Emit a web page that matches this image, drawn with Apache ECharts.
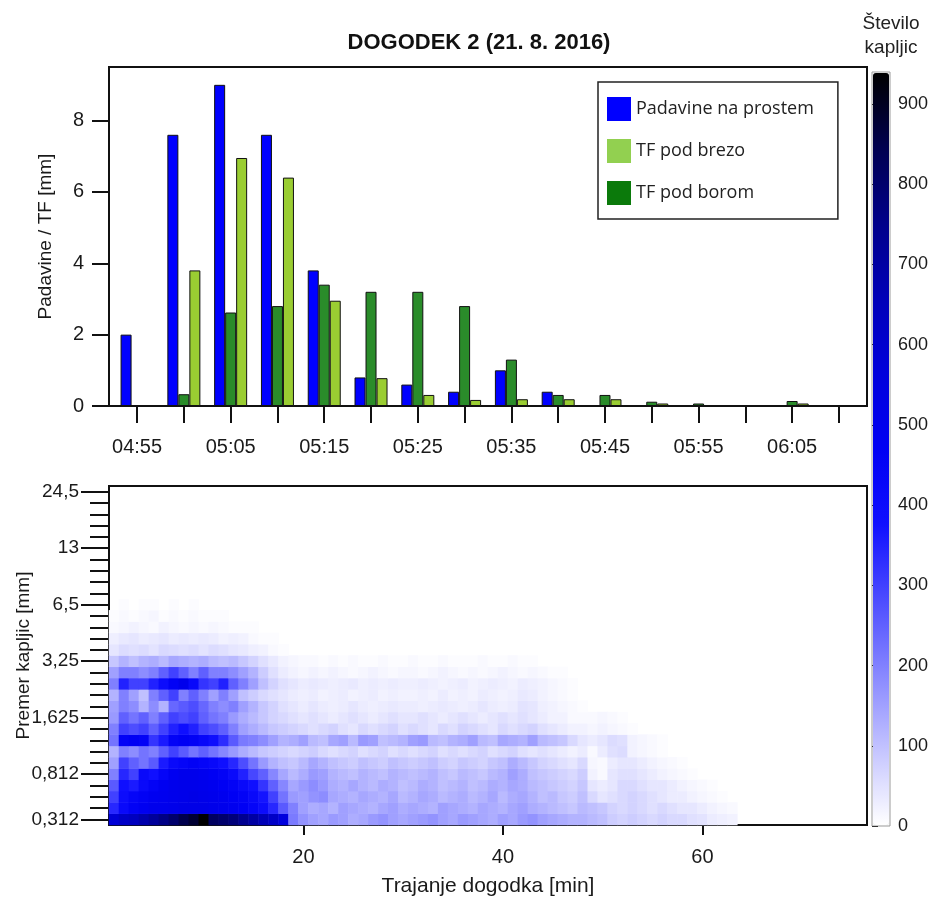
<!DOCTYPE html>
<html>
<head>
<meta charset="utf-8">
<script src="https://cdn.jsdelivr.net/npm/echarts@6/dist/echarts.min.js"></script>
<style>
  html, body { margin: 0; padding: 0; background: #fff; }
  #chart { width: 935px; height: 898px; }
</style>
</head>
<body>
<div id="chart"></div>
<script>
// top panel: 5-minute totals
const times = ['04:55','05:00','05:05','05:10','05:15','05:20','05:25','05:30','05:35','05:40','05:45','05:50','05:55','06:00','06:05','06:10'];
const padavine = [2.0, 7.6, 9.0, 7.6, 3.8, 0.8, 0.6, 0.4, 1.0, 0.4, 0, 0, 0, 0, 0, 0];
const tfBor    = [0, 0.33, 2.62, 2.8, 3.4, 3.2, 3.2, 2.8, 1.3, 0.31, 0.31, 0.12, 0.07, 0, 0.14, 0];
const tfBreza  = [0, 3.8, 6.95, 6.4, 2.95, 0.78, 0.31, 0.17, 0.19, 0.19, 0.19, 0.07, 0, 0, 0.07, 0];
const rainTicks = [0, 2, 4, 6, 8];

// bottom panel: drop counts per minute (columns) for each diameter class (rows)
const sizeClasses = ['0,312','0,437','0,562','0,687','0,812','0,937','1,062','1,187','1,375','1,625','1,875','2,125','2,375','2,75','3,25','3,75','4,25','4,75','5,5','6,5','7,5','8,5','9,5','11','13','15','17','19','21,5','24,5'];
const sizeLabels = ['0,312','0,812','1,625','3,25','6,5','13','24,5'];
const minuteCount = 76;
const minuteTicks = [20, 40, 60];
const colorTicks = [0, 100, 200, 300, 400, 500, 600, 700, 800, 900];

const d0312 = [580,620,640,680,720,760,800,850,880,940,820,800,780,740,700,660,620,560, 210,170,150,140,160,150,130,140,160,170,150,140, 150,160,170,150,140,160,150,140,130,150,140,160,170,150,140,130,120, 120,110,100,80,70,80,70,60,70,60,60,50,45,30,25,20];
const d0437 = [340,420,460,480,500,500,510,520,520,520,510,500,490,470,440,400,340,260, 200,150,130,140,120,150,140,130,120,140,150,130, 140,130,120,150,140,130,120,140,130,120,140,150,130,120,110,100,90, 110,100,90,70,60,70,60,50,60,50,40,40,30,20,15,10];
const d0562 = [300,400,440,460,480,490,500,510,520,510,500,490,470,450,420,370,300,220, 160,150,170,180,140,130,120,140,130,120,140,110, 120,140,130,110,120,130,110,120,140,110,130,140,120,100,110,90,80, 100,60,40,50,60,70,60,50,40,30,30,20,15,10,5];
const d0687 = [260,380,360,420,450,480,500,510,510,500,490,470,450,420,380,320,250,190, 140,160,180,160,130,120,140,120,110,130,120,100, 110,130,120,100,110,120,100,110,130,120,140,130,110,100,90,80,70, 90,40,30,40,60,60,50,40,40,30,20,15,10,5];
const d0812 = [200,340,300,420,380,440,480,500,500,490,470,450,410,350,290,250,190,140, 110,130,160,150,120,110,100,120,110,100,120,110, 100,110,120,100,90,110,100,90,110,120,150,130,100,90,80,70,60, 80,20,10,40,50,50,40,30,20,15,10,5];
const d0937 = [150,300,250,220,260,360,420,440,460,440,420,380,340,280,220,160,120,100, 90,110,140,120,100,90,80,100,90,80,100,90, 80,90,100,80,70,90,80,70,90,100,130,110,90,70,60,50,40, 60,15,10,30,40,40,30,20,15,10,5];
const d1062 = [120,200,180,220,200,250,300,260,220,250,220,190,160,130,110,90,80,70, 60,70,80,60,50,60,70,50,60,70,50,60, 50,60,70,50,60,50,60,70,50,60,70,50,40,50,40,30,20, 30,10,30,50,55,20,15,10,5];
const d1187 = [220,450,470,450,320,360,450,470,460,430,390,330,260,210,200,180,150,120, 130,150,110,100,140,150,110,160,150,100,110,120, 150,160,110,100,120,130,150,110,100,140,130,120,150,110,100,90,60, 40,30,40,55,50,20,15,10,5];
const d1375 = [200,300,280,300,250,300,350,380,350,300,280,250,200,150,130,110,90,80, 70,60,50,60,70,50,40,60,50,60,70,50, 60,50,40,60,50,70,60,50,40,60,50,60,70,50,40,30,20, 20,15,20,15,10,5];
const d1625 = [160,250,220,250,200,250,300,280,300,250,220,200,160,130,110,90,70,60, 50,40,50,40,30,40,50,40,30,40,50,40, 40,50,40,30,40,50,40,30,40,50,40,50,40,30,20,20,10, 10,10,15,10,5];
const d1875 = [150,200,180,120,180,120,240,260,280,240,200,180,200,150,120,90,70,50, 40,30,40,30,25,30,40,30,25,30,35,30, 30,25,30,35,30,25,30,40,30,25,30,45,40,25,20,15,10, 5];
const d2125 = [120,200,150,100,200,250,300,200,250,200,150,200,150,100,80,60,50,40, 30,25,30,20,25,30,20,25,30,20,25,20, 20,25,20,30,20,25,20,30,25,20,25,35,30,20,15,10,5];
const d2375 = [200,350,300,300,350,400,460,500,420,320,300,350,250,200,150,100,70,50, 40,30,35,30,25,30,35,25,30,25,30,25, 25,30,25,20,25,30,20,25,30,25,20,30,25,20,15,10,5];
const d2750 = [150,200,200,180,200,250,300,250,200,250,200,200,180,150,120,80,50,30, 20,15,20,15,20,15,10,15,20,15,10,15, 15,10,15,20,15,10,15,10,15,20,15,10,15,10,5,5];
const d3250 = [90,120,100,120,130,110,140,130,120,130,110,100,110,90,70,50,35,20, 15,10,10,5,10,5,10,5,5,10,5,5, 10,5,5,10,5,5,5,10,5,5,10,5,5];
const d3750 = [40,55,50,55,45,60,55,50,55,45,55,50,40,35,25,20,10,5];
const d4250 = [25,35,40,30,35,40,30,35,30,35,30,20,25,20,10,5,5];
const d4750 = [10,15,20,15,10,20,15,10,15,10,15,10,5,5,5];
const d5500 = [5,10,5,10,15,5,10,5,10,5,5,5];
const d6500 = [0,5,0,5,5,0,5,0,5];
const countRows = [d0312, d0437, d0562, d0687, d0812, d0937, d1062, d1187, d1375, d1625,
                   d1875, d2125, d2375, d2750, d3250, d3750, d4250, d4750, d5500, d6500];

const FONT = 'Liberation Sans';

const minutes = [];
for (let m = 1; m <= minuteCount; m++) minutes.push(String(m));

const heatData = [];
countRows.forEach((row, k) => {
  row.forEach((v, j) => { if (v > 0) heatData.push([j, k, v]); });
});

function barData(vals) {
  const out = [];
  vals.forEach((v, i) => { if (v > 0) out.push([i * 5, v]); });
  return out;
}

const barBorder = { borderColor: '#111', borderWidth: 1 };
const labelText = { fontFamily: FONT, fontSize: 19, color: '#1a1a1a' };
const blackLine = { show: true, onZero: false, lineStyle: { color: '#111', width: 2 } };

const chart = echarts.init(document.getElementById('chart'), null, { renderer: 'canvas' });

const option = {
  animation: false,
  backgroundColor: '#fff',
  title: [
    {
      text: 'DOGODEK 2 (21. 8. 2016)',
      left: 479, top: 32, textAlign: 'center', padding: 0,
      textStyle: { fontFamily: FONT, fontWeight: 'bold', fontSize: 22, color: '#111' }
    },
    {
      text: 'Število\nkapljic',
      left: 891, top: 12, textAlign: 'center', padding: 0,
      textStyle: { fontFamily: FONT, fontWeight: 'normal', fontSize: 19, lineHeight: 24, color: '#222' }
    }
  ],
  legend: {
    orient: 'vertical',
    left: 598, top: 82,
    padding: [15, 24, 14, 9],
    itemWidth: 24, itemHeight: 24, itemGap: 18,
    icon: 'rect',
    borderColor: '#222', borderWidth: 1.5,
    backgroundColor: '#fff',
    textStyle: { fontFamily: 'Open Sans', fontSize: 18, color: '#222' },
    data: [
      { name: 'Padavine na prostem', itemStyle: { color: '#0000ff', borderWidth: 0 } },
      { name: 'TF pod brezo', itemStyle: { color: '#92d050', borderWidth: 0 } },
      { name: 'TF pod borom', itemStyle: { color: '#0b7a0b', borderWidth: 0 } }
    ]
  },
  grid: [
    { left: 109, top: 67, width: 758, height: 339, show: true, borderColor: '#111', borderWidth: 2, outerBoundsMode: 'none' },
    { left: 109, top: 486, width: 758, height: 339, show: true, borderColor: '#111', borderWidth: 2, outerBoundsMode: 'none' },
    { left: 872, top: 72, width: 18, height: 754, show: true, borderColor: '#999', borderWidth: 1, outerBoundsMode: 'none' }
  ],
  xAxis: [
    {
      type: 'value', gridIndex: 0, min: -3, max: 78,
      axisLine: blackLine,
      axisTick: { show: true, length: 17, lineStyle: { color: '#111', width: 2 },
                  customValues: times.map((t, i) => i * 5) },
      axisLabel: { ...labelText, fontSize: 20, margin: 31,
                   customValues: times.map((t, i) => i * 5).filter((v, i) => i % 2 === 0),
                   formatter: v => times[Math.round(v / 5)] },
      splitLine: { show: false }
    },
    {
      type: 'category', gridIndex: 1, data: minutes, boundaryGap: true,
      name: 'Trajanje dogodka [min]', nameLocation: 'middle', nameGap: 51, nameMoveOverlap: false,
      nameTextStyle: { fontFamily: FONT, fontSize: 21, color: '#1a1a1a' },
      axisLine: blackLine,
      axisTick: { show: true, alignWithLabel: true, length: 10, lineStyle: { color: '#111', width: 2 },
                  interval: (i, v) => minuteTicks.includes(Number(v)) },
      axisLabel: { ...labelText, fontSize: 20, margin: 22,
                   interval: (i, v) => minuteTicks.includes(Number(v)) },
      splitLine: { show: false }
    },
    { type: 'value', gridIndex: 2, show: false, min: 0, max: 1 }
  ],
  yAxis: [
    {
      type: 'value', gridIndex: 0, min: 0, max: 9.5,
      name: 'Padavine / TF [mm]', nameLocation: 'middle', nameGap: 54, nameMoveOverlap: false,
      nameTextStyle: { fontFamily: FONT, fontSize: 19, color: '#1a1a1a' },
      axisLine: blackLine,
      axisTick: { show: true, length: 17, lineStyle: { color: '#111', width: 2 }, customValues: rainTicks },
      axisLabel: { ...labelText, fontSize: 20, margin: 25, customValues: rainTicks },
      splitLine: { show: false }
    },
    {
      type: 'category', gridIndex: 1, data: sizeClasses, boundaryGap: true, position: 'left',
      name: 'Premer kapljic [mm]', nameLocation: 'middle', nameGap: 76, nameMoveOverlap: false,
      nameTextStyle: { fontFamily: FONT, fontSize: 19, color: '#1a1a1a' },
      axisLine: blackLine,
      axisTick: { show: true, alignWithLabel: true, length: 28, lineStyle: { color: '#111', width: 2 },
                  interval: (i, v) => sizeLabels.includes(v) },
      axisLabel: { ...labelText, margin: 30, interval: (i, v) => sizeLabels.includes(v) },
      splitLine: { show: false }
    },
    {
      type: 'category', gridIndex: 1, data: sizeClasses, boundaryGap: true, position: 'left',
      axisLine: blackLine,
      axisTick: { show: true, alignWithLabel: true, length: 19, interval: 0, lineStyle: { color: '#111', width: 2 } },
      axisLabel: { show: false },
      splitLine: { show: false }
    },
    {
      type: 'value', gridIndex: 2, min: 0, max: 940, position: 'right',
      axisLine: { show: false },
      axisTick: { show: true, length: 6, lineStyle: { color: '#333', width: 1 }, customValues: colorTicks },
      axisLabel: { fontFamily: FONT, fontSize: 18, color: '#1a1a1a', margin: 8, customValues: colorTicks },
      splitLine: { show: false }
    }
  ],
  visualMap: {
    type: 'continuous',
    min: 0, max: 940,
    seriesIndex: 3,
    calculable: false,
    hoverLink: false,
    left: 873, top: 73,
    padding: 0,
    itemWidth: 16, itemHeight: 752,
    text: null,
    inRange: {
      color: ['#ffffff', '#c4c4ff', '#8888ff', '#4c4cff', '#1010ff', '#0000f4',
              '#0000dc', '#0000b8', '#00008a', '#000050', '#000000']
    }
  },
  series: [
    {
      name: 'Padavine na prostem', type: 'bar', xAxisIndex: 0, yAxisIndex: 0,
      barWidth: 11, barGap: '0%',
      itemStyle: { color: '#0000ff', ...barBorder },
      data: barData(padavine)
    },
    {
      name: 'TF pod borom', type: 'bar', xAxisIndex: 0, yAxisIndex: 0,
      barWidth: 11, barGap: '0%',
      itemStyle: { color: '#2a8c2a', ...barBorder },
      data: barData(tfBor)
    },
    {
      name: 'TF pod brezo', type: 'bar', xAxisIndex: 0, yAxisIndex: 0,
      barWidth: 11, barGap: '0%',
      itemStyle: { color: '#9acd32', ...barBorder },
      data: barData(tfBreza)
    },
    {
      name: 'Število kapljic', type: 'heatmap', xAxisIndex: 1, yAxisIndex: 1,
      data: heatData,
      emphasis: { disabled: true },
      progressive: 0
    }
  ]
};

chart.setOption(option);
</script>
</body>
</html>
